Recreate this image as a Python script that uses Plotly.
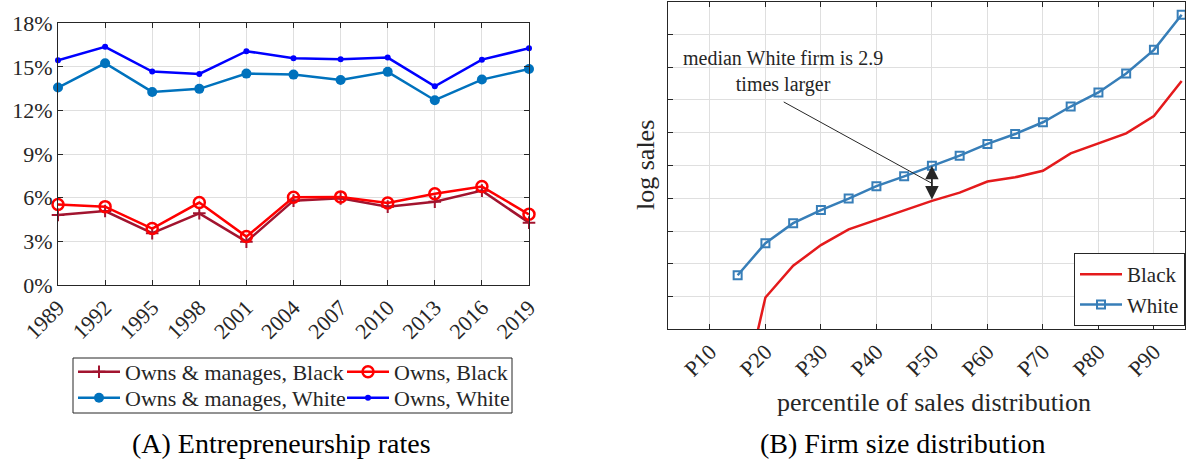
import plotly.graph_objects as go

# ---------------- Panel A: entrepreneurship rates (percent) ----------------
years = [1989, 1992, 1995, 1998, 2001, 2004, 2007, 2010, 2013, 2016, 2019]
owns_manages_black = [4.82, 5.09, 3.56, 4.93, 2.98, 5.80, 5.96, 5.39, 5.73, 6.49, 4.29]
owns_black = [5.53, 5.39, 3.88, 5.67, 3.33, 6.03, 6.06, 5.64, 6.28, 6.77, 4.86]
owns_manages_white = [13.58, 15.25, 13.28, 13.49, 14.54, 14.47, 14.10, 14.66, 12.71, 14.13, 14.86]
owns_white = [15.46, 16.38, 14.68, 14.52, 16.08, 15.60, 15.53, 15.64, 13.67, 15.50, 16.28]
pct_ticks = [0, 3, 6, 9, 12, 15, 18]
pct_labels = ["0%", "3%", "6%", "9%", "12%", "15%", "18%"]

# ---------------- Panel B: firm size distribution (log sales) ----------------
percentiles = [15, 20, 25, 30, 35, 40, 45, 50, 55, 60, 65, 70, 75, 80, 85, 90, 95]
log_sales_black = [7.30, 10.97, 11.94, 12.57, 13.05, 13.34, 13.64, 13.92, 14.17,
                   14.51, 14.64, 14.84, 15.37, 15.68, 15.98, 16.51, 17.58]
log_sales_white = [11.65, 12.63, 13.24, 13.64, 13.99, 14.37, 14.67, 14.99, 15.30,
                   15.66, 15.96, 16.32, 16.80, 17.23, 17.81, 18.53, 19.60]
pctl_ticks = [10, 20, 30, 40, 50, 60, 70, 80, 90]
pctl_labels = ["P10", "P20", "P30", "P40", "P50", "P60", "P70", "P80", "P90"]

W, H = 1186, 461
AX = "#262626"
GRID = "#dfdfdf"
FONT = "Liberation Serif, Times New Roman, serif"


def px_x(p):
    return p / W


def px_y(p):
    return 1 - p / H


fig = go.Figure()

# Panel A traces
fig.add_trace(go.Scatter(
    x=years, y=owns_manages_black, mode="lines+markers", name="Owns & manages, Black",
    line=dict(color="#A2142F", width=2.5),
    marker=dict(symbol="cross-thin", size=9, color="#A2142F", line=dict(color="#A2142F", width=2)),
    xaxis="x", yaxis="y", legend="legend", cliponaxis=False))
fig.add_trace(go.Scatter(
    x=years, y=owns_black, mode="lines+markers", name="Owns, Black",
    line=dict(color="#FF0000", width=2.5),
    marker=dict(symbol="circle-open", size=11, color="#FF0000", line=dict(color="#FF0000", width=2.5)),
    xaxis="x", yaxis="y", legend="legend", cliponaxis=False))
fig.add_trace(go.Scatter(
    x=years, y=owns_manages_white, mode="lines+markers", name="Owns & manages, White",
    line=dict(color="#0072BD", width=2.5),
    marker=dict(symbol="circle", size=10, color="#0072BD"),
    xaxis="x", yaxis="y", legend="legend2", cliponaxis=False))
fig.add_trace(go.Scatter(
    x=years, y=owns_white, mode="lines+markers", name="Owns, White",
    line=dict(color="#0000FF", width=2.5),
    marker=dict(symbol="circle", size=6, color="#0000FF"),
    xaxis="x", yaxis="y", legend="legend2", cliponaxis=False))

# Panel B traces
fig.add_trace(go.Scatter(
    x=percentiles, y=log_sales_black, mode="lines", name="Black",
    line=dict(color="#E41A1C", width=2.5),
    xaxis="x2", yaxis="y2", legend="legend3"))
fig.add_trace(go.Scatter(
    x=percentiles, y=log_sales_white, mode="lines+markers", name="White",
    line=dict(color="#377EB8", width=2.5),
    marker=dict(symbol="square-open", size=8, color="#377EB8", line=dict(width=2, color="#377EB8")),
    xaxis="x2", yaxis="y2", legend="legend3"))

axis_common = dict(showline=True, linecolor=AX, linewidth=1, mirror="ticks",
                   ticks="inside", ticklen=5, tickcolor=AX, showgrid=True,
                   gridcolor=GRID, gridwidth=1, zeroline=False, automargin=False,
                   tickfont=dict(family=FONT, size=22, color=AX))

fig.update_layout(
    template="none",
    width=W, height=H, margin=dict(l=0, r=0, t=0, b=0, pad=0),
    paper_bgcolor="white", plot_bgcolor="white",
    font=dict(family=FONT, color=AX, size=22),
    showlegend=True,
    xaxis=dict(domain=[px_x(58), px_x(529)], range=[1989, 2019], tickvals=years,
               tickangle=-45, anchor="y", **axis_common),
    yaxis=dict(domain=[px_y(285), px_y(23.3)], range=[0, 18], tickvals=pct_ticks,
               ticktext=pct_labels, anchor="x", **axis_common),
    xaxis2=dict(domain=[px_x(668), px_x(1185)], range=[2.45, 95.6], tickvals=pctl_ticks,
                ticktext=pctl_labels, tickangle=-45, anchor="y2", **axis_common),
    yaxis2=dict(domain=[px_y(329.3), px_y(1.7)], range=[10, 20], dtick=1,
                showticklabels=False, anchor="x2", **axis_common),
    legend=dict(orientation="h", x=px_x(73), xanchor="left", y=px_y(372), yanchor="middle",
                entrywidth=212, itemwidth=42, bgcolor="rgba(0,0,0,0)", borderwidth=0,
                font=dict(family=FONT, size=22, color=AX)),
    legend2=dict(orientation="h", x=px_x(73), xanchor="left", y=px_y(398), yanchor="middle",
                 entrywidth=212, itemwidth=42, bgcolor="rgba(0,0,0,0)", borderwidth=0,
                 font=dict(family=FONT, size=22, color=AX)),
    legend3=dict(orientation="v", x=px_x(1185), xanchor="right", y=px_y(253), yanchor="top",
                 itemwidth=42, bgcolor="white", bordercolor=AX, borderwidth=1,
                 font=dict(family=FONT, size=21, color=AX)),
)

# Border around the two-row legend of panel A
fig.add_shape(type="rect", xref="paper", yref="paper",
              x0=px_x(73), x1=px_x(512), y0=px_y(413), y1=px_y(358),
              line=dict(color=AX, width=1), fillcolor="rgba(0,0,0,0)")

# Gap between medians: double-headed arrow at P50
i50 = percentiles.index(50)
w50, b50 = log_sales_white[i50], log_sales_black[i50]
fig.add_annotation(x=50, y=w50, ax=50, ay=b50, xref="x2", yref="y2",
                   axref="x2", ayref="y2", text="", showarrow=True,
                   arrowhead=2, arrowside="end+start", arrowsize=1.5,
                   arrowwidth=1.8, arrowcolor=AX)
fig.add_shape(type="line", xref="x2", yref="y2", x0=23.3, y0=16.94,
              x1=50, y1=(w50 + b50) / 2, line=dict(color=AX, width=1))
fig.add_annotation(x=23.2, y=17.88, xref="x2", yref="y2", showarrow=False,
                   text="median White firm is 2.9<br>times larger", align="center",
                   font=dict(family=FONT, size=20, color=AX))

# Axis titles for panel B
fig.add_annotation(x=px_x(645), y=px_y(165), xref="paper", yref="paper", showarrow=False,
                   text="log sales", textangle=-90, xanchor="center", yanchor="middle",
                   font=dict(family=FONT, size=26, color=AX))
fig.add_annotation(x=px_x(934), y=px_y(402), xref="paper", yref="paper", showarrow=False,
                   text="percentile of sales distribution", xanchor="center", yanchor="middle",
                   font=dict(family=FONT, size=26, color=AX))

# Panel captions
fig.add_annotation(x=px_x(281), y=0, xref="paper", yref="paper", showarrow=False,
                   text="(A) Entrepreneurship rates", xanchor="center", yanchor="bottom",
                   font=dict(family=FONT, size=28, color="black"))
fig.add_annotation(x=px_x(902), y=0, xref="paper", yref="paper", showarrow=False,
                   text="(B) Firm size distribution", xanchor="center", yanchor="bottom",
                   font=dict(family=FONT, size=28, color="black"))

fig.write_html("out.html")
